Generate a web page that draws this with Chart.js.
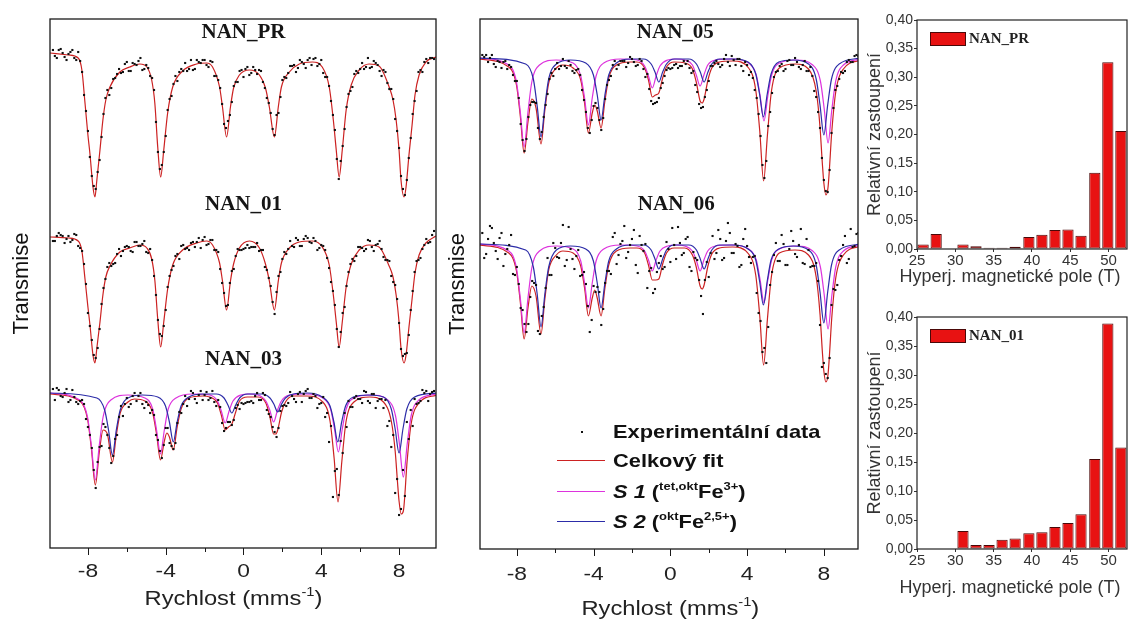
<!DOCTYPE html>
<html>
<head>
<meta charset="utf-8">
<script src="https://cdn.jsdelivr.net/npm/chart.js@4.4.1/dist/chart.umd.min.js"></script>
<style>
  body { margin: 0; background: #fff; width: 1135px; height: 621px; position: relative; overflow: hidden; }
  canvas { position: absolute; }
</style>
</head>
<body>
<canvas id="spectraA" width="440" height="621" style="left:0;top:0"></canvas>
<canvas id="spectraB" width="422" height="621" style="left:440px;top:0"></canvas>
<canvas id="histPR" width="273" height="300" style="left:862px;top:0"></canvas>
<canvas id="hist01" width="273" height="321" style="left:862px;top:300px"></canvas>
<script>
// ---- measured spectra: velocity channels (mm/s) and relative transmission (%)
const channelVel = [-9.8,-9.6,-9.4,-9.2,-9.0,-8.8,-8.6,-8.4,-8.2,-8.0,-7.8,-7.6,-7.4,-7.2,-7.0,-6.8,-6.6,-6.4,-6.2,-6.0,
  -5.8,-5.6,-5.4,-5.2,-5.0,-4.8,-4.6,-4.4,-4.2,-4.0,-3.8,-3.6,-3.4,-3.2,-3.0,-2.8,-2.6,-2.4,-2.2,-2.0,
  -1.8,-1.6,-1.4,-1.2,-1.0,-0.8,-0.6,-0.4,-0.2,0,0.2,0.4,0.6,0.8,1.0,1.2,1.4,1.6,1.8,2.0,
  2.2,2.4,2.6,2.8,3.0,3.2,3.4,3.6,3.8,4.0,4.2,4.4,4.6,4.8,5.0,5.2,5.4,5.6,5.8,6.0,
  6.2,6.4,6.6,6.8,7.0,7.2,7.4,7.6,7.8,8.0,8.2,8.4,8.6,8.8,9.0,9.2,9.4,9.6,9.8];
// the interleaved half of the channels
const halfVel = [-9.7,-9.5,-9.3,-9.1,-8.9,-8.7,-8.5,-8.3,-8.1,-7.9,-7.7,-7.5,-7.3,-7.1,-6.9,-6.7,-6.5,-6.3,-6.1,-5.9,
  -5.7,-5.5,-5.3,-5.1,-4.9,-4.7,-4.5,-4.3,-4.1,-3.9,-3.7,-3.5,-3.3,-3.1,-2.9,-2.7,-2.5,-2.3,-2.1,-1.9,
  -1.7,-1.5,-1.3,-1.1,-0.9,-0.7,-0.5,-0.3,-0.1,0.1,0.3,0.5,0.7,0.9,1.1,1.3,1.5,1.7,1.9,2.1,
  2.3,2.5,2.7,2.9,3.1,3.3,3.5,3.7,3.9,4.1,4.3,4.5,4.7,4.9,5.1,5.3,5.5,5.7,5.9,6.1,
  6.3,6.5,6.7,6.9,7.1,7.3,7.5,7.7,7.9,8.1,8.3,8.5,8.7,8.9,9.1,9.3,9.5,9.7];

const expPR = [100.5,99.7,100.6,99.8,100.1,100.5,99.5,99.4,96.0,92.4,
  87.9,86.6,89.5,94.1,96.5,96.7,97.7,98.6,98.3,99.3,
  98.4,99.1,99.4,98.5,99.0,97.9,96.5,90.3,89.0,91.9,
  95.6,97.1,97.4,98.6,99.2,98.6,98.5,99.5,99.2,99.5,
  98.8,99.3,97.9,96.7,93.1,93.4,95.3,97.3,98.4,97.8,
  98.8,98.2,98.5,98.5,97.3,95.7,94.2,92.0,94.2,97.5,
  97.7,98.9,99.0,98.7,99.3,98.7,99.7,99.6,98.9,99.5,
  97.8,96.9,94.0,89.6,89.4,92.6,96.1,96.8,98.4,98.6,
  98.6,99.7,98.8,99.2,98.4,98.5,97.2,96.6,93.6,90.7,
  86.6,87.5,91.7,95.4,98.3,98.3,99.6,99.7,99.6];
const expPRhalf = [99.9,100.5,100.2,99.5,100.3,99.7,100.3,98.3,94.4,89.8,
  86.9,88.3,91.8,95.7,96.0,97.6,98.1,98.2,99.1,98.4,
  99.2,99.0,99.7,98.6,98.7,97.7,93.3,88.6,90.3,94.5,
  95.9,97.9,98.3,98.4,98.4,99.5,98.6,99.3,99.5,99.0,
  99.4,97.9,97.5,95.1,92.7,94.0,96.9,97.3,98.5,98.6,
  98.0,98.8,98.1,98.4,96.7,95.2,92.6,94.0,95.8,97.8,
  98.2,98.9,98.3,99.5,99.1,99.5,99.0,99.7,99.1,98.2,
  97.8,95.4,92.5,87.6,90.9,94.8,96.4,98.1,98.2,99.2,
  98.8,98.7,99.4,99.0,97.9,98.3,96.6,95.6,92.4,87.9,
  86.0,89.7,94.1,96.4,98.5,99.3,99.2,99.7];

const exp01 = [99.6,100.1,100.2,99.4,100.1,99.7,100.2,98.9,97.3,92.4,
  89.7,87.9,90.8,94.9,97.0,97.1,97.4,98.8,98.6,99.1,
  98.6,99.5,99.1,99.3,98.5,98.8,96.1,91.7,90.1,92.7,
  96.1,97.1,98.3,99.1,98.8,98.7,99.5,99.5,98.9,100.0,
  99.3,99.7,98.7,96.8,94.4,93.2,96.6,98.1,98.7,98.8,
  99.2,99.0,99.0,98.6,98.7,96.7,95.1,92.3,96.1,97.8,
  98.3,99.6,99.0,99.7,99.1,100.1,99.5,99.9,98.7,99.2,
  98.7,96.9,94.6,90.8,90.5,93.0,96.5,97.8,98.1,99.0,
  98.6,99.7,99.0,99.2,99.6,98.0,97.7,96.1,95.2,91.4,
  88.1,88.4,92.7,96.5,97.7,98.8,99.8,99.5,100.6];
const exp01half = [99.6,100.4,100.1,99.8,99.5,100.3,99.1,98.6,95.3,91.1,
  88.2,88.9,93.3,95.8,97.4,97.3,98.3,98.1,99.0,99.0,
  98.5,99.5,99.1,99.6,98.4,97.7,94.2,90.3,91.1,95.0,
  96.7,98.1,97.8,99.2,98.9,99.4,99.0,99.9,99.7,99.2,
  99.7,98.7,98.5,95.4,93.1,95.4,96.8,98.8,98.7,98.9,
  98.9,99.0,99.4,98.7,97.0,95.9,93.5,94.5,96.5,98.5,
  98.8,99.1,99.9,99.1,99.8,99.9,99.4,99.6,98.9,99.1,
  97.9,95.5,93.2,89.0,92.4,95.1,97.3,97.6,99.0,98.9,
  98.8,99.6,98.6,99.3,98.8,97.7,97.6,95.5,93.8,88.8,
  88.3,90.2,94.6,97.6,97.9,99.2,99.4,100.2];

const exp03 = [100.3,100.4,99.6,99.9,99.0,100.2,99.0,99.1,98.8,96.5,
  94.4,90.4,94.5,96.8,95.7,92.9,95.3,97.5,97.6,99.4,
  98.8,99.9,99.6,98.8,99.0,97.9,97.7,95.2,93.4,96.4,
  94.9,94.3,96.9,97.9,99.6,99.3,99.9,98.9,100.1,99.7,
  99.2,100.1,98.6,98.5,96.1,97.0,96.7,98.4,98.3,98.8,
  99.0,99.1,99.6,99.2,99.9,98.2,97.5,96.0,96.4,98.6,
  98.6,100.0,99.3,99.8,99.0,100.1,99.4,99.8,98.4,98.9,
  97.5,95.0,89.5,92.3,95.1,97.9,99.1,98.5,99.6,99.3,
  100.1,99.1,99.8,98.4,99.3,98.4,96.6,94.5,89.9,87.7,
  92.2,97.0,98.2,99.3,98.9,100.2,100.1,99.8,100.1];
const exp03half = [99.2,100.2,99.5,100.3,99.2,99.5,98.8,99.2,97.3,95.7,
  92.2,93.0,94.6,96.5,94.4,93.6,95.7,98.6,98.8,98.5,
  99.6,99.1,99.9,98.4,98.7,98.2,95.7,94.1,94.7,96.4,
  94.6,94.9,98.0,98.8,98.6,100.1,99.3,99.7,99.2,100.0,
  99.4,99.0,99.2,96.9,96.4,97.0,97.2,98.7,98.9,98.9,
  99.0,98.9,99.9,99.2,99.7,97.8,96.5,95.5,98.1,98.7,
  98.9,99.6,99.0,100.0,99.8,100.3,99.4,99.6,98.8,99.5,
  97.9,96.6,92.1,89.7,93.9,96.5,98.5,99.4,99.3,98.9,
  100.0,98.9,99.8,99.1,99.3,99.2,97.1,95.7,91.3,88.3,
  89.6,95.3,96.6,98.8,99.1,99.9,99.1,100.0];

const exp05 = [100.2,100.2,99.9,99.3,99.6,98.9,99.6,99.2,98.2,97.6,
  93.3,90.6,94.0,95.5,95.4,91.8,94.0,96.3,98.4,98.8,
  98.8,99.8,98.9,99.2,98.4,98.8,96.7,94.5,92.4,95.1,
  94.9,92.7,95.8,97.7,99.2,98.8,99.6,99.6,99.4,99.8,
  99.1,99.8,98.8,98.3,95.6,95.4,95.9,97.4,98.7,98.8,
  99.2,98.9,99.1,99.3,98.9,98.6,96.5,94.9,96.0,97.6,
  99.1,99.6,99.0,99.8,99.5,100.1,99.2,99.8,98.6,99.2,
  98.5,96.7,94.3,89.2,89.6,94.5,98.0,98.6,99.3,98.8,
  99.7,99.2,99.5,98.8,99.6,98.6,98.1,96.0,92.9,87.7,
  86.5,92.4,96.7,97.8,98.4,99.5,99.5,100.1,100.1];
const exp05half = [100.0,99.5,100.2,99.0,99.5,99.5,98.8,99.0,97.6,95.9,
  91.7,91.8,95.2,95.5,92.9,92.5,95.2,97.8,98.1,99.4,
  99.1,99.1,99.6,98.6,98.7,98.2,95.7,92.9,93.7,95.4,
  93.7,93.9,97.2,98.1,99.6,99.2,99.6,99.0,100.0,99.5,
  99.2,99.6,98.0,96.8,95.3,95.5,96.9,98.1,98.9,98.9,
  99.3,99.1,99.6,99.6,98.4,97.2,95.3,95.0,96.7,99.1,
  99.4,99.3,99.2,100.2,99.1,99.7,99.8,99.1,99.5,98.2,
  97.9,95.9,92.1,87.9,93.1,96.4,98.5,99.1,98.6,99.6,
  99.2,99.9,99.0,99.2,98.6,99.0,96.6,94.5,89.9,86.6,
  88.7,94.9,97.1,98.5,98.6,99.7,99.5,100.2];

const exp06 = [101.0,98.9,101.7,100.0,98.4,101.0,98.9,99.8,96.9,97.6,
  93.5,91.9,91.9,96.2,95.8,90.9,93.6,98.5,96.8,99.5,
  98.5,101.8,98.3,99.4,97.4,99.3,96.8,95.9,91.1,95.7,
  95.6,91.8,96.0,97.2,100.6,97.9,99.9,101.7,99.1,100.4,
  97.8,100.7,99.2,95.5,97.5,95.4,98.0,97.4,100.1,98.1,
  99.8,101.6,98.8,100.4,97.6,99.1,98.3,94.7,96.3,96.6,
  100.7,99.0,100.4,98.5,102.0,99.0,99.9,97.6,100.4,99.7,
  98.0,98.7,93.0,89.1,88.0,95.8,98.8,98.2,100.8,97.8,
  99.4,100.2,98.6,101.4,97.9,99.3,97.7,98.0,91.8,88.0,
  86.5,93.8,95.3,98.3,99.8,98.0,101.4,99.7,101.0];
const exp06half = [98.5,100.4,101.5,99.2,100.5,97.7,99.4,100.8,96.8,95.9,
  93.3,91.1,94.6,96.0,91.2,92.7,95.5,96.8,100.0,98.6,
  100.0,97.7,101.6,98.4,98.7,96.7,97.1,93.7,92.3,95.1,
  95.1,93.4,97.2,96.9,101.0,98.8,100.2,98.5,99.8,101.3,
  97.0,99.8,99.9,97.2,95.0,97.1,98.7,97.6,99.4,101.5,
  98.4,100.0,99.0,100.6,97.2,98.5,96.3,92.9,98.1,99.0,
  98.4,101.3,98.3,100.2,101.0,99.0,99.7,97.8,101.4,98.6,
  98.6,95.0,92.2,89.5,91.6,97.1,100.0,98.2,99.9,97.8,
  101.2,98.9,99.8,98.0,100.4,97.6,97.7,96.2,87.6,86.9,
  88.5,95.4,95.8,98.7,100.7,98.4,99.6,100.9];

// ---- single sextet fits (NAN_PR, NAN_01)
const fitVelSingle = [-9.95,-9.0,-8.5,-8.31,-8.15,-8.0,-7.9,-7.74,-7.64,-7.54,-7.38,-7.23,-7.08,-6.87,-6.36,-5.85,-5.33,-4.97,-4.72,-4.56,
  -4.41,-4.26,-4.1,-3.9,-3.64,-3.13,-2.41,-1.9,-1.59,-1.23,-1.08,-0.87,-0.67,-0.51,-0.21,0.31,0.82,1.13,1.33,1.59,
  1.79,1.95,2.36,2.87,3.54,4.05,4.41,4.62,4.77,4.92,5.08,5.28,5.54,5.95,6.46,6.97,7.49,7.69,7.85,8.0,
  8.1,8.26,8.36,8.51,8.67,8.82,9.03,9.38,9.9];
const fitPR = [100.2,100.0,99.7,98.5,95.2,92.0,90.2,86.8,85.8,87.5,90.5,93.5,95.5,96.8,98.3,98.8,99.1,98.8,97.5,95.2,
  90.8,87.8,90.5,94.2,96.8,98.4,99.1,99.2,98.8,96.8,94.8,91.8,94.8,96.7,98.0,98.5,98.0,96.7,94.8,91.8,
  94.8,96.8,98.3,99.1,99.3,98.8,96.8,93.5,90.5,87.8,90.5,94.5,97.0,98.5,99.1,98.9,96.8,95.5,93.5,90.5,
  87.5,85.8,86.8,90.0,93.0,96.0,98.0,99.3,99.8];
const fit01 = [100.0,99.9,99.6,98.6,95.8,93.0,91.3,88.2,87.4,88.9,91.5,94.2,96.0,97.1,98.5,98.9,99.2,98.9,97.8,95.7,
  91.8,89.0,91.5,94.8,97.2,98.7,99.4,99.6,99.2,97.4,95.6,92.7,95.6,97.3,98.9,99.6,98.9,97.3,95.6,92.7,
  95.6,97.4,98.9,99.5,99.6,99.0,97.2,94.2,91.5,89.0,91.5,95.0,97.3,98.7,99.2,99.0,97.1,96.0,94.2,91.5,
  88.9,87.4,88.2,91.0,93.8,96.4,98.2,99.4,100.1];

// ---- two-sextet fits: S1 (tet,okt Fe3+), S2 (okt Fe2,5+) and their sum
const s1Vel = [-9.95,-8.42,-8.02,-7.82,-7.62,-7.42,-7.22,-6.82,-5.95,-5.07,-4.67,-4.47,-4.27,-4.07,-3.87,-3.47,-2.6,
  -1.74,-1.34,-1.14,-0.94,-0.74,-0.54,-0.14,0.3,0.75,1.15,1.35,1.55,1.75,1.95,2.35,3.2,
  4.08,4.48,4.68,4.88,5.08,5.28,5.68,6.55,7.42,7.82,8.02,8.22,8.42,8.62,9.02,9.95];
const s1_03 = [99.9,99.2,97.5,94.6,91.2,94.6,97.5,99.2,99.7,99.4,98.3,96.2,93.8,96.2,98.3,99.4,99.8,
  99.7,99.1,98.1,96.9,98.1,99.1,99.7,99.8,99.7,99.1,98.2,97.0,98.2,99.1,99.7,99.8,
  99.4,98.3,96.3,94.0,96.3,98.3,99.4,99.7,99.2,97.6,94.8,91.5,94.8,97.6,99.2,99.8];
const s1_05 = [99.9,99.2,97.5,94.5,91.0,94.5,97.5,99.2,99.7,99.4,98.1,95.9,93.2,95.9,98.1,99.4,99.8,
  99.7,99.1,98.1,96.9,98.1,99.1,99.7,99.8,99.7,99.2,98.2,97.1,98.2,99.2,99.7,99.8,
  99.4,98.2,96.1,93.6,96.1,98.2,99.4,99.7,99.2,97.6,94.8,91.4,94.8,97.6,99.2,99.8];
const s1_06 = [99.9,99.2,97.5,94.5,91.0,94.5,97.5,99.2,99.7,99.4,98.2,96.0,93.5,96.0,98.2,99.4,99.8,
  99.7,99.2,98.3,97.2,98.3,99.2,99.7,99.8,99.7,99.2,98.3,97.2,98.3,99.2,99.7,99.8,
  99.4,98.3,96.3,94.0,96.3,98.3,99.4,99.7,99.2,97.6,94.8,91.4,94.8,97.6,99.2,99.8];

const s2Vel = [-9.95,-7.54,-7.14,-6.94,-6.74,-6.54,-6.34,-5.94,-5.2,-4.41,-4.01,-3.81,-3.61,-3.41,-3.21,-2.81,-2.1,
  -1.4,-1.0,-0.8,-0.6,-0.4,-0.2,0.2,0.58,0.96,1.36,1.56,1.76,1.96,2.16,2.56,3.3,
  4.05,4.45,4.65,4.85,5.05,5.25,5.65,6.4,7.2,7.6,7.8,8.0,8.2,8.4,8.8,9.95];
const s2_03 = [99.9,99.4,98.2,96.2,93.7,96.2,98.2,99.4,99.7,99.5,98.6,97.0,95.0,97.0,98.6,99.5,99.8,
  99.8,99.4,98.7,97.9,98.7,99.4,99.8,99.8,99.8,99.4,98.8,98.0,98.8,99.4,99.8,99.9,
  99.5,98.6,97.0,95.0,97.0,98.6,99.5,99.7,99.5,98.3,96.3,93.9,96.3,98.3,99.5,99.9];
const s2_05 = [99.9,99.3,97.8,95.1,92.0,95.1,97.8,99.3,99.7,99.4,98.2,96.2,93.7,96.2,98.2,99.4,99.8,
  99.8,99.3,98.5,97.5,98.5,99.3,99.8,99.8,99.8,99.3,98.5,97.5,98.5,99.3,99.8,99.8,
  99.5,98.3,96.3,94.0,96.3,98.3,99.5,99.7,99.3,97.8,95.2,92.2,95.2,97.8,99.3,99.9];
const s2_06 = [99.9,99.3,97.6,94.9,91.6,94.9,97.6,99.3,99.7,99.4,98.2,96.0,93.5,96.0,98.2,99.4,99.8,
  99.8,99.3,98.4,97.4,98.4,99.3,99.8,99.8,99.8,99.3,98.4,97.4,98.4,99.3,99.8,99.8,
  99.4,98.3,96.2,93.8,96.2,98.3,99.4,99.7,99.3,97.8,95.1,92.0,95.1,97.8,99.3,99.9];

const totVel = [-9.95,-8.42,-8.02,-7.82,-7.62,-7.42,-7.22,-7.0,-6.74,-6.54,-6.34,-5.94,-5.6,-5.07,-4.67,-4.47,-4.27,-4.07,-3.94,-3.81,
  -3.61,-3.41,-3.21,-2.81,-2.1,-1.74,-1.34,-1.14,-0.94,-0.77,-0.6,-0.4,-0.2,0.2,0.75,1.15,1.35,1.55,1.66,1.76,
  1.96,2.16,2.56,3.25,4.08,4.45,4.66,4.86,5.06,5.27,5.68,6.5,7.2,7.6,7.8,7.92,8.0,8.11,8.22,8.42,
  8.62,9.02,9.95];
const tot03 = [99.8,99.1,97.3,94.3,90.7,93.9,96.2,95.8,93.0,95.7,97.9,99.0,99.3,99.1,97.9,95.8,93.2,95.1,95.9,95.5,
  94.2,96.5,98.3,99.4,99.6,99.5,98.9,97.7,96.2,96.5,96.8,98.0,99.1,99.5,99.5,98.9,97.6,95.8,95.8,96.2,
  98.0,99.0,99.6,99.6,99.0,97.1,93.4,89.0,93.1,97.0,99.0,99.5,99.0,97.1,94.1,91.0,89.1,87.8,88.1,93.2,
  96.8,98.9,99.7];
const tot05 = [99.8,99.0,97.2,94.1,90.4,93.5,95.8,94.9,91.3,94.7,97.4,98.9,99.2,98.9,97.7,95.4,92.4,94.4,95.2,94.6,
  92.9,95.6,97.9,99.2,99.5,99.5,98.9,97.7,96.0,96.2,96.4,97.9,99.0,99.5,99.4,98.8,97.5,95.6,95.4,95.8,
  97.7,98.9,99.5,99.6,98.9,96.7,92.6,87.6,92.2,96.6,98.9,99.3,98.8,96.6,93.0,89.4,87.4,86.2,87.0,92.7,
  96.5,98.8,99.7];
const tot06 = [99.8,99.0,97.2,94.1,90.4,93.5,95.7,94.7,90.9,94.4,97.3,98.8,99.2,99.0,97.7,95.5,92.7,94.5,95.3,94.5,
  92.7,95.5,97.8,99.2,99.5,99.5,99.0,97.8,96.3,96.3,96.4,97.9,99.0,99.5,99.5,98.8,97.6,95.7,95.4,95.8,
  97.7,98.9,99.5,99.6,98.9,96.8,92.7,87.8,92.4,96.7,99.0,99.3,98.8,96.6,92.9,89.2,87.2,86.1,86.9,92.7,
  96.5,98.8,99.7];

// ---- hyperfine field distributions
const fieldBins = [25.8,27.5,29.2,31.0,32.7,34.4,36.1,37.8,39.6,41.3,43.0,44.7,46.4,48.2,49.9,51.6];
const distPR = [0.008,0.026,0.000,0.008,0.005,0.002,0.002,0.004,0.021,0.025,0.033,0.034,0.023,0.133,0.326,0.206];
const dist01 = [0.000,0.000,0.000,0.031,0.007,0.007,0.016,0.018,0.027,0.029,0.038,0.045,0.060,0.155,0.389,0.175];

const velMajor = [-8, -4, 0, 4, 8];
const velMinor = [-6, -2, 2, 6];
const fieldTicks = [25, 30, 35, 40, 45, 50];
const shareTicks = [0, 0.05, 0.10, 0.15, 0.20, 0.25, 0.30, 0.35, 0.40];

const RED = '#cc2222', MAGENTA = '#dd33dd', BLUE = '#2c2ca8';
const SANS = "'Liberation Sans', Arial, sans-serif";
const SERIF = "'Liberation Serif', 'Times New Roman', serif";
Chart.defaults.font.family = SANS;
Chart.defaults.color = '#222';

function pts(vel, vals, shift) {
  return vel.map((v, i) => ({ x: v, y: vals[i] + shift }));
}
function dotSet(vals, half, shift) {
  return { data: pts(channelVel, vals, shift).concat(pts(halfVel, half, shift)), showLine: false,
    pointRadius: 1.5, pointStyle: 'rect', backgroundColor: '#111', borderWidth: 0, order: 0 };
}
function curveSet(vel, vals, shift, color, order) {
  return { data: pts(vel, vals, shift), showLine: true, pointRadius: 0, borderColor: color, borderWidth: 1.2,
    cubicInterpolationMode: 'monotone', fill: false, order: order };
}

// text runs drawn with a slight horizontal stretch (wide sans lettering)
function drawRuns(ctx, x, y, sx, runs, align) {
  ctx.save();
  let w = 0;
  runs.forEach(r => { ctx.font = r.f; w += ctx.measureText(r.t).width; });
  ctx.translate(x, y);
  ctx.scale(sx, 1);
  let cx = align === 'center' ? -w / 2 : 0;
  ctx.textAlign = 'left';
  runs.forEach(r => {
    ctx.font = r.f;
    ctx.fillText(r.t, cx, r.dy || 0);
    cx += ctx.measureText(r.t).width;
  });
  ctx.restore();
}

// frame, velocity ticks and labels, axis title, sample names
function spectraDecor(names, labelDy, titleDy, titleDx) {
  return {
    id: 'spectraDecor',
    afterDatasetsDraw(chart) {
      const { ctx, chartArea: a } = chart;
      const xs = chart.scales.x;
      ctx.save();
      ctx.strokeStyle = '#1a1a1a';
      ctx.lineWidth = 1.3;
      ctx.strokeRect(a.left, a.top, a.right - a.left, a.bottom - a.top);
      ctx.beginPath();
      velMajor.forEach(v => { const x = Math.round(xs.getPixelForValue(v)) + 0.5; ctx.moveTo(x, a.bottom); ctx.lineTo(x, a.bottom + 7); });
      velMinor.forEach(v => { const x = Math.round(xs.getPixelForValue(v)) + 0.5; ctx.moveTo(x, a.bottom); ctx.lineTo(x, a.bottom + 4); });
      ctx.lineWidth = 1;
      ctx.stroke();

      ctx.fillStyle = '#222';
      ctx.textBaseline = 'middle';
      velMajor.forEach(v => drawRuns(ctx, xs.getPixelForValue(v), a.bottom + labelDy, 1.2, [{ t: String(v), f: '19px ' + SANS }], 'center'));
      ctx.textBaseline = 'alphabetic';
      drawRuns(ctx, xs.getPixelForValue(0) + titleDx, a.bottom + titleDy, 1.13, [
        { t: 'Rychlost (mms', f: '21px ' + SANS }, { t: '-1', f: '13px ' + SANS, dy: -9 }, { t: ')', f: '21px ' + SANS }
      ], 'center');

      ctx.fillStyle = '#151515';
      ctx.font = 'bold 21px ' + SERIF;
      ctx.textAlign = 'center';
      ctx.textBaseline = 'middle';
      names.forEach(n => ctx.fillText(n.text, xs.getPixelForValue(0) + n.dx, n.y));
      ctx.restore();
    }
  };
}

const fitLegend = {
  id: 'fitLegend',
  afterDraw(chart) {
    const ctx = chart.ctx;
    const big = 'bold 18.5px ' + SANS, bigIt = 'italic bold 18.5px ' + SANS, sup = 'bold 11px ' + SANS;
    ctx.save();
    ctx.fillStyle = '#111';
    ctx.textBaseline = 'alphabetic';
    ctx.fillRect(141, 431, 2, 2);
    ctx.lineWidth = 1.2;
    [[RED, 460], [MAGENTA, 491], [BLUE, 521]].forEach(([c, y]) => {
      ctx.strokeStyle = c;
      ctx.beginPath(); ctx.moveTo(117, y + 0.5); ctx.lineTo(165, y + 0.5); ctx.stroke();
    });
    drawRuns(ctx, 173, 438, 1.18, [{ t: 'Experimentální data', f: big }]);
    drawRuns(ctx, 173, 467, 1.18, [{ t: 'Celkový fit', f: big }]);
    drawRuns(ctx, 173, 498, 1.18, [{ t: 'S 1', f: bigIt }, { t: ' (', f: big }, { t: 'tet,okt', f: sup, dy: -8 },
      { t: 'Fe', f: big }, { t: '3+', f: sup, dy: -8 }, { t: ')', f: big }]);
    drawRuns(ctx, 173, 528, 1.18, [{ t: 'S 2', f: bigIt }, { t: ' (', f: big }, { t: 'okt', f: sup, dy: -8 },
      { t: 'Fe', f: big }, { t: '2,5+', f: sup, dy: -8 }, { t: ')', f: big }]);
    ctx.restore();
  }
};

function spectraOptions(xMin, xMax, yMax, axisH, yTitlePad, yAxisW) {
  return {
    responsive: false, animation: false, events: [],
    layout: { padding: { left: 0, right: 3, top: 19, bottom: 0 } },
    plugins: { legend: { display: false }, tooltip: { enabled: false } },
    scales: {
      x: {
        type: 'linear', min: xMin, max: xMax,
        ticks: { display: false },
        grid: { display: false, drawTicks: false },
        border: { display: false },
        afterFit: s => { s.height = axisH; }
      },
      y: {
        min: 0, max: yMax,
        ticks: { display: false }, grid: { display: false }, border: { display: false },
        title: { display: true, text: 'Transmise', font: { size: 22 }, color: '#111', padding: { top: yTitlePad, bottom: 0 } },
        afterFit: s => { s.width = yAxisW; }
      }
    }
  };
}

// left panel: NAN_PR, NAN_01, NAN_03 stacked
const shiftPR = -50.7, shift01 = -68.9, shift03 = -84.4;
new Chart(document.getElementById('spectraA'), {
  type: 'scatter',
  data: { datasets: [
    curveSet(s2Vel, s2_03, shift03, BLUE, 1),
    curveSet(s1Vel, s1_03, shift03, MAGENTA, 2),
    curveSet(totVel, tot03, shift03, RED, 3),
    curveSet(fitVelSingle, fitPR, shiftPR, RED, 3),
    curveSet(fitVelSingle, fit01, shift01, RED, 3),
    dotSet(expPR, expPRhalf, shiftPR), dotSet(exp01, exp01half, shift01), dotSet(exp03, exp03half, shift03)
  ] },
  options: spectraOptions(-9.95, 9.9, 52.9, 73, 9, 50),
  plugins: [spectraDecor([{ text: 'NAN_PR', dx: 0, y: 33 }, { text: 'NAN_01', dx: 0, y: 205 }, { text: 'NAN_03', dx: 0, y: 360 }], 24, 57, -10)]
});

// middle panel: NAN_05, NAN_06 with both sub-spectra
const shift05 = -50.8, shift06 = -69.4;
new Chart(document.getElementById('spectraB'), {
  type: 'scatter',
  data: { datasets: [
    curveSet(s2Vel, s2_05, shift05, BLUE, 1),
    curveSet(s1Vel, s1_05, shift05, MAGENTA, 2),
    curveSet(totVel, tot05, shift05, RED, 3),
    curveSet(s2Vel, s2_06, shift06, BLUE, 1),
    curveSet(s1Vel, s1_06, shift06, MAGENTA, 2),
    curveSet(totVel, tot06, shift06, RED, 3),
    dotSet(exp05, exp05half, shift05), dotSet(exp06, exp06half, shift06)
  ] },
  options: spectraOptions(-9.92, 9.78, 53.0, 72, 5, 40),
  plugins: [spectraDecor([{ text: 'NAN_05', dx: 5, y: 33 }, { text: 'NAN_06', dx: 6, y: 205 }], 26, 66, 0), fitLegend]
});

// hyperfine field histograms
function histChart(id, values, name, topPad, axisH, titleDy) {
  new Chart(document.getElementById(id), {
    type: 'bar',
    data: { datasets: [{
      data: fieldBins.map((b, i) => ({ x: b, y: values[i] })),
      backgroundColor: '#e81212', borderColor: '#4a0808', borderWidth: 1, borderSkipped: false,
      barPercentage: 0.86, categoryPercentage: 1
    }] },
    options: {
      responsive: false, animation: false, events: [],
      layout: { padding: { left: 0, right: 8, top: topPad, bottom: 0 } },
      plugins: { legend: { display: false }, tooltip: { enabled: false } },
      scales: {
        x: {
          type: 'linear', offset: false, min: 25, max: 52.4,
          afterBuildTicks: s => { s.ticks = fieldTicks.map(v => ({ value: v })); },
          ticks: { font: { size: 15 }, color: '#333', padding: 0, maxRotation: 0, autoSkip: false },
          grid: { offset: false, drawOnChartArea: false, tickLength: 3, color: '#333' },
          border: { display: false },
          afterFit: s => { s.height = axisH; }
        },
        y: {
          min: 0, max: 0.4,
          afterBuildTicks: s => { s.ticks = shareTicks.map(v => ({ value: v })); },
          ticks: { font: { size: 14 }, color: '#333', padding: 1, callback: v => v.toFixed(2).replace('.', ',') },
          grid: { drawOnChartArea: false, tickLength: 3, color: '#333' },
          border: { display: false },
          title: { display: true, text: 'Relativní zastoupení', font: { size: 18 }, color: '#333', padding: { top: 2, bottom: 0 } },
          afterFit: s => { s.width = 55; }
        }
      }
    },
    plugins: [{
      id: 'histDecor',
      afterDraw(chart) {
        const { ctx, chartArea: a } = chart;
        ctx.save();
        ctx.strokeStyle = '#222';
        ctx.lineWidth = 1.2;
        ctx.strokeRect(a.left, a.top, a.right - a.left, a.bottom - a.top);
        ctx.fillStyle = '#e81212';
        ctx.fillRect(a.left + 13, a.top + 12, 35, 13);
        ctx.strokeStyle = '#4a0808';
        ctx.lineWidth = 1;
        ctx.strokeRect(a.left + 13.5, a.top + 12.5, 35, 13);
        ctx.fillStyle = '#222';
        ctx.font = 'bold 15px ' + SERIF;
        ctx.textBaseline = 'middle';
        ctx.fillText(name, a.left + 52, a.top + 19);
        ctx.fillStyle = '#333';
        ctx.font = '18px ' + SANS;
        ctx.textAlign = 'center';
        ctx.fillText('Hyperj. magnetické pole (T)', 148, a.bottom + titleDy);
        ctx.restore();
      }
    }]
  });
}
histChart('histPR', distPR, 'NAN_PR', 20, 51, 28);
histChart('hist01', dist01, 'NAN_01', 17, 72, 39);
</script>
</body>
</html>
